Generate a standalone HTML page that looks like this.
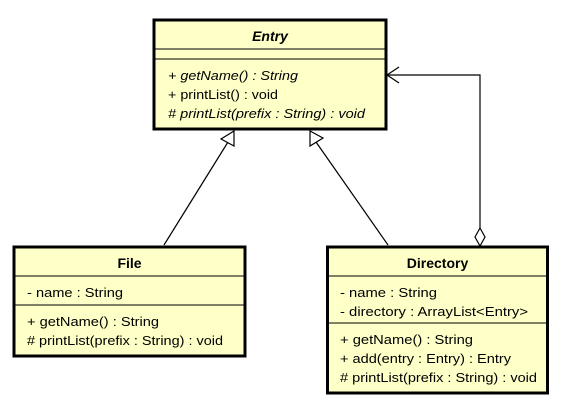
<!DOCTYPE html>
<html><head><meta charset="utf-8"><style>
html,body{margin:0;padding:0;background:#fff;width:573px;height:417px;overflow:hidden}
svg{display:block}
text{font-family:"Liberation Sans",Arial,sans-serif;font-size:13px;fill:#000}
.b{font-weight:bold;font-size:14px}
.i{font-style:italic}
</style></head><body>
<svg width="573" height="417" viewBox="0 0 573 417" xmlns="http://www.w3.org/2000/svg">
<g fill="#ffffc8" stroke="#000">
<rect x="154" y="20" width="232" height="109" stroke-width="3"/>
<rect x="14" y="247" width="231" height="109" stroke-width="3"/>
<rect x="327.5" y="247" width="220" height="146" stroke-width="3"/>
</g>
<g stroke="#000" stroke-width="1">
<line x1="155" y1="49" x2="385" y2="49"/>
<line x1="155" y1="59" x2="385" y2="59"/>
<line x1="15" y1="276" x2="244" y2="276"/>
<line x1="15" y1="305" x2="244" y2="305"/>
<line x1="329" y1="276" x2="546" y2="276"/>
<line x1="329" y1="323" x2="546" y2="323"/>
</g>
<g stroke="#000" stroke-width="1.2" fill="none">
<line x1="164" y1="245" x2="228" y2="142"/>
<polygon points="234,131 221,139 234,146" fill="#fff"/>
<line x1="388" y1="245" x2="316" y2="142"/>
<polygon points="310,131 310,146 323,138" fill="#fff"/>
<polyline points="480,228 480,75 387,75"/>
<polyline points="399,67 387,75 399,83"/>
<polygon points="480,228 485,237 480,246 475,237" fill="#fff"/>
</g>
<text x="270" y="41" text-anchor="middle" class="b i">Entry</text>
<text x="168" y="80" class="i" textLength="130" lengthAdjust="spacingAndGlyphs">+ getName() : String</text>
<text x="168" y="99" textLength="110" lengthAdjust="spacingAndGlyphs">+ printList() : void</text>
<text x="168" y="118" class="i" textLength="197" lengthAdjust="spacingAndGlyphs"># printList(prefix : String) : void</text>
<text x="129.5" y="268" text-anchor="middle" class="b">File</text>
<text x="27" y="297" textLength="96" lengthAdjust="spacingAndGlyphs">- name : String</text>
<text x="27" y="326" textLength="132" lengthAdjust="spacingAndGlyphs">+ getName() : String</text>
<text x="27" y="345" textLength="196" lengthAdjust="spacingAndGlyphs"># printList(prefix : String) : void</text>
<text x="437.5" y="268" text-anchor="middle" class="b">Directory</text>
<text x="340" y="297" textLength="97" lengthAdjust="spacingAndGlyphs">- name : String</text>
<text x="340" y="316" textLength="188" lengthAdjust="spacingAndGlyphs">- directory : ArrayList&lt;Entry&gt;</text>
<text x="340" y="344" textLength="133" lengthAdjust="spacingAndGlyphs">+ getName() : String</text>
<text x="340" y="363" textLength="171" lengthAdjust="spacingAndGlyphs">+ add(entry : Entry) : Entry</text>
<text x="340" y="382" textLength="197" lengthAdjust="spacingAndGlyphs"># printList(prefix : String) : void</text>
</svg>
</body></html>
